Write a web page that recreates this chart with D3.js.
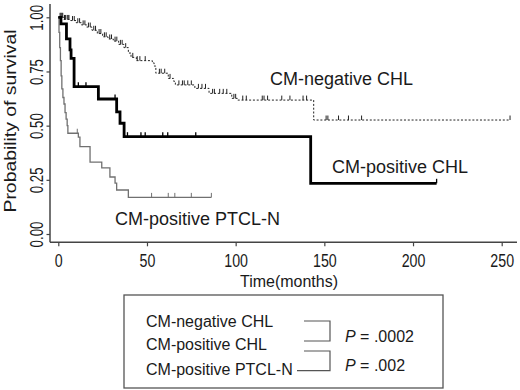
<!DOCTYPE html>
<html><head><meta charset="utf-8">
<script src="https://cdn.jsdelivr.net/npm/d3@7"></script>
<style>body{margin:0;background:#fff}svg{display:block}text{font-family:"Liberation Sans",Arial,sans-serif;fill:#1a1a1a}</style>
</head><body><svg id="c" width="520" height="390"></svg>
<script>
// ---- data ----
const timeTicks = [0, 50, 100, 150, 200, 250];
const survTicks = [0, 0.25, 0.5, 0.75, 1];
const survTickLabels = ["0.00", "0.25", "0.50", "0.75", "1.00"];

// CM-negative CHL: event times and survival after each step
const negTimes = [3, 7, 10, 13, 16, 19, 22, 25, 28, 31, 34, 37, 39.5, 41, 44, 53, 54, 55, 62, 65, 66, 77, 85, 97.8, 101, 144];
const negSurv  = [0.99, 0.985, 0.975, 0.965, 0.955, 0.94, 0.925, 0.91, 0.9, 0.89, 0.875, 0.86, 0.835, 0.815, 0.80, 0.79, 0.775, 0.742, 0.718, 0.705, 0.688, 0.672, 0.649, 0.626, 0.618, 0.526];
const negEnd = 254.7;
const negCensor = [1, 1.5, 2, 2.5, 3.5, 4, 5, 5.5, 6, 8, 9, 11, 12, 14, 15, 17, 18, 20, 21, 23, 24, 26, 27, 29, 30, 32, 33, 35, 36, 38, 42, 44.5, 46, 49, 57, 58, 60, 63, 68, 70, 71, 73, 75, 79, 81, 83, 87, 88, 91, 93, 95, 99, 100, 104, 106, 115, 116, 118, 126, 130.6, 138, 140, 151, 152, 158, 163.6, 171, 254.7];

// CM-positive CHL
const posTimes = [1.5, 4.6, 6.6, 7.2, 8.9, 22.6, 32.9, 34.8, 37.1, 142.3];
const posSurv  = [0.97, 0.90, 0.85, 0.81, 0.68, 0.623, 0.564, 0.511, 0.449, 0.234];
const posEnd = 213.3;
const posCensor = [11.3, 15.6, 32, 39, 46.6, 49, 58.9, 61.7, 77.5, 213.3];

// CM-positive PTCL-N
const ptclTimes = [0.4, 0.8, 1.2, 1.6, 2.0, 2.6, 3.2, 3.8, 4.4, 5.0, 5.4, 11.3, 12.2, 17.9, 24.5, 29.1, 32.0, 32.9, 39.5];
const ptclSurv  = [0.93, 0.86, 0.80, 0.73, 0.67, 0.63, 0.60, 0.56, 0.53, 0.50, 0.465, 0.447, 0.403, 0.332, 0.305, 0.263, 0.235, 0.203, 0.169];
const ptclEnd = 86.3;
const ptclCensor = [10.7, 52.6, 62, 65.7, 75, 86.3];

const legendNames = ["CM-negative CHL", "CM-positive CHL", "CM-positive PTCL-N"];
const pValues = [".0002", ".002"];

// ---- drawing ----
const svg = d3.select("#c");
const x = d3.scaleLinear().domain([0, 250]).range([58.3, 501.7]);
const y = d3.scaleLinear().domain([0, 1]).range([234, 17.3]);
const axisCol = "#444";

// axes (L shaped)
svg.append("line").attr("x1", 50).attr("x2", 50).attr("y1", 4).attr("y2", 242.3).attr("stroke", axisCol).attr("stroke-width", 1.5);
svg.append("line").attr("x1", 50).attr("x2", 517).attr("y1", 242.3).attr("y2", 242.3).attr("stroke", axisCol).attr("stroke-width", 1.5);

const xAxis = d3.axisBottom(x).tickValues(timeTicks).tickSize(4).tickFormat(d3.format("d"));
const gx = svg.append("g").attr("transform", "translate(0,242.3)").call(xAxis);
gx.select(".domain").remove();
gx.selectAll(".tick line").attr("stroke", axisCol).attr("stroke-width", 1.2);
gx.selectAll(".tick text").remove();
gx.selectAll(".tick").append("text")
  .attr("transform", "translate(0,24.4) scale(0.79,1)")
  .attr("text-anchor", "middle").attr("font-size", 18)
  .style("fill", "#1a1a1a")
  .text(d => d);

const yAxis = d3.axisLeft(y).tickValues(survTicks).tickSize(3.5);
const gy = svg.append("g").attr("transform", "translate(50,0)").call(yAxis);
gy.select(".domain").remove();
gy.selectAll(".tick line").attr("stroke", axisCol).attr("stroke-width", 1.2);
gy.selectAll(".tick text").remove();
gy.selectAll(".tick").append("text")
  .attr("transform", "translate(-7,0) rotate(-90) scale(0.76,1)")
  .attr("text-anchor", "middle").attr("font-size", 17.5)
  .style("fill", "#1a1a1a")
  .text((d, i) => survTickLabels[i]);

svg.append("text").attr("transform", "translate(15.5,121) rotate(-90)")
  .attr("text-anchor", "middle").attr("font-size", 17)
  .attr("textLength", 183).attr("lengthAdjust", "spacingAndGlyphs")
  .text("Probability of survival");
svg.append("text").attr("x", 289).attr("y", 286.5)
  .attr("text-anchor", "middle").attr("font-size", 17)
  .attr("textLength", 98).attr("lengthAdjust", "spacingAndGlyphs")
  .text("Time(months)");

// KM curves
function stepPts(times, surv, end) {
  const pts = [[0, 1]];
  times.forEach((t, i) => pts.push([t, surv[i]]));
  pts.push([end, surv[surv.length - 1]]);
  return pts;
}
function survAt(times, surv, t) {
  let s = 1;
  times.forEach((tt, i) => { if (tt <= t) s = surv[i]; });
  return s;
}
const line = d3.line().x(d => x(d[0])).y(d => y(d[1])).curve(d3.curveStepAfter);

const series = [
  {times: ptclTimes, surv: ptclSurv, end: ptclEnd, cens: ptclCensor, color: "#707070", w: 1.3, dash: null},
  {times: negTimes, surv: negSurv, end: negEnd, cens: negCensor, color: "#222", w: 1, dash: "2,1.8"},
  {times: posTimes, surv: posSurv, end: posEnd, cens: posCensor, color: "#000", w: 2.8, dash: null}
];
series.forEach(s => {
  svg.append("path").attr("d", line(stepPts(s.times, s.surv, s.end)))
    .attr("fill", "none").attr("stroke", s.color).attr("stroke-width", s.w)
    .attr("stroke-dasharray", s.dash);
  svg.append("g").selectAll("line").data(s.cens).join("line")
    .attr("x1", d => x(d)).attr("x2", d => x(d))
    .attr("y1", d => y(survAt(s.times, s.surv, d)))
    .attr("y2", d => y(survAt(s.times, s.surv, d)) - 4.5)
    .attr("stroke", s.color).attr("stroke-width", s.w > 2 ? 1.3 : 1);
});

// inline labels
svg.append("text").attr("x", 270).attr("y", 85).attr("font-size", 18).text("CM-negative CHL");
svg.append("text").attr("x", 332).attr("y", 173).attr("font-size", 18).text("CM-positive CHL");
svg.append("text").attr("x", 115).attr("y", 225).attr("font-size", 18).text("CM-positive PTCL-N");

// legend box
svg.append("rect").attr("x", 124).attr("y", 295).attr("width", 319).attr("height", 93)
  .attr("fill", "none").attr("stroke", "#555").attr("stroke-width", 1.3);
const legY = [326.7, 350, 375];
svg.selectAll(".leg").data(legendNames).join("text").attr("class", "leg")
  .attr("x", 146).attr("y", (d, i) => legY[i]).attr("font-size", 16).text(d => d);

const brk = "#555";
svg.append("path").attr("d", "M304,321H330V341H304").attr("fill", "none").attr("stroke", brk).attr("stroke-width", 1.2);
svg.append("path").attr("d", "M304,351H330V370.7H297").attr("fill", "none").attr("stroke", brk).attr("stroke-width", 1.2);

const pY = [341.7, 370.7];
pValues.forEach((p, i) => {
  const t = svg.append("text").attr("x", 345).attr("y", pY[i]).attr("font-size", 16);
  t.append("tspan").attr("font-style", "italic").text("P");
  t.append("tspan").text(" = " + p);
});
</script></body></html>
